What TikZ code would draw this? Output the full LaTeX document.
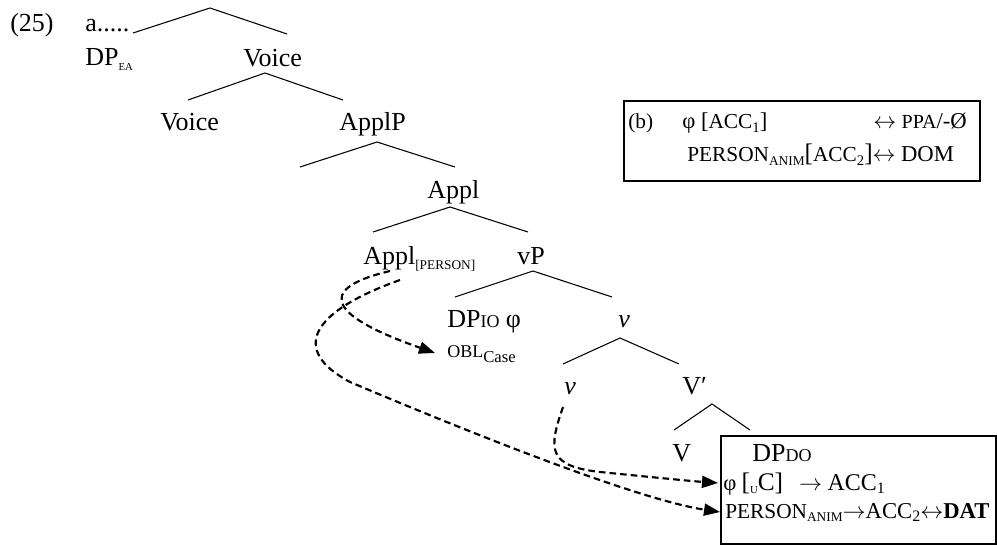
\documentclass[tikz,border=0pt]{standalone}
\usepackage{fontspec}
\setmainfont{Liberation Serif}
\usetikzlibrary{arrows.meta,calc}
\newcommand{\fs}[2]{{\fontsize{#1}{#1}\selectfont #2}}
\newcommand{\lo}[2][9]{\raisebox{-0.4ex}{\fontsize{#1}{#1}\selectfont #2}}
\newcommand{\lra}{\fs{19}{$\leftrightarrow$}}
\newcommand{\ra}{\fs{19}{$\rightarrow$}}
\tikzset{
  lbl/.style={inner sep=0pt, anchor=base west, font=\fontsize{19.5}{22}\selectfont},
  txt/.style={inner sep=0pt, anchor=base west, font=\fontsize{16}{18}\selectfont},
  edge/.style={line width=0.8pt},
  frame/.style={draw, line width=1.5pt, inner sep=0pt, anchor=north west},
  link/.style={dash pattern=on 5pt off 3pt, line width=1.6pt, -{Triangle[length=12pt,width=9pt]}},
}
\begin{document}
\begin{tikzpicture}[x=0.75pt, y=-0.75pt]
  \useasboundingbox (0,0) rectangle (997,545);
  % labels of the tree
  \node[lbl] (ex) at (10,32) {(25)};
  \node[lbl] (a) at (85,32) {a.....};
  \node[lbl] (dpea) at (85,66) {DP\lo[8]{EA}};
  \node[lbl] (voicebar) at (243,67) {Voice};
  \node[lbl] (voice) at (160,131) {Voice};
  \node[lbl] (applP) at (339,131) {ApplP};
  \node[lbl] (applbar) at (427,199) {Appl};
  \node[lbl] (applhead) at (363,265) {Appl\lo[10]{[PERSON]}};
  \node[lbl] (vP) at (517,265) {vP};
  \node[lbl] (dpio) at (447,328) {DP\fs{13.5}{IO} φ};
  \node[lbl] (obl) at (447,358) {\fs{13.5}{OBL}\lo[12.5]{Case}};
  \node[lbl] (vbar) at (618,328) {\textit{v}};
  \node[lbl] (vhead) at (564,395) {\textit{v}};
  \node[lbl] (Vbar) at (682,395) {V′};
  \node[lbl] (Vhead) at (672,462) {V};
  % branches
  \foreach \n/\x/\y in {r/210/8, rL/133/33, rR/287/34, vo/265/73, voL/188/100, voR/343/100,
      ap/377/142, apL/300/167, apR/455/167, al/450/207, alL/373/232, alR/528/232,
      vp/533/271, vpL/455/297, vpR/612/297, vb/620/338, vbL/563/364, vbR/679/364,
      Vb/712/404, VbL/674/430, VbR/750/430}
    \coordinate (\n) at (\x,\y);
  \draw[edge] (rL) -- (r) -- (rR);
  \draw[edge] (voL) -- (vo) -- (voR);
  \draw[edge] (apL) -- (ap) -- (apR);
  \draw[edge] (alL) -- (al) -- (alR);
  \draw[edge] (vpL) -- (vp) -- (vpR);
  \draw[edge] (vbL) -- (vb) -- (vbR);
  \draw[edge] (VbL) -- (Vb) -- (VbR);
  % box (b)
  \node[frame, minimum width=267pt, minimum height=60pt] (boxb) at (623,100) {};
  \node[txt] (bl) at (628,129) {(b)};
  \node[txt] (bphi) at (682,129) {\fs{17}{φ [}\fs{16}{ACC}\lo[11]{1}\fs{17}{]}};
  \node[txt] (bppa) at (873,129) {\lra\ \fs{15}{PPA}\fs{17}{/-Ø}};
  \node[txt] (bpers) at (687,162) {\fs{16}{PERSON}\lo[10]{ANIM}\fs{19}{[}ACC\lo[11]{2}\fs{19}{]}\lra\ \fs{17}{DOM}};
  % box of the object
  \node[frame, minimum width=206pt, minimum height=81pt] (boxdo) at (720,435) {};
  \node[lbl] (dpdo) at (752,462) {DP\fs{13.5}{DO}};
  \node[txt] (phi) at (723,490) {\fs{17}{φ} \fs{19}{[}\lo[8]{U}\fs{19}{C]}\ \ \ \ra\ \fs{18}{ACC}\lo[12]{1}};
  \node[txt] (pers) at (725,518) {PERSON\lo[10]{ANIM}\ra\fs{17}{ACC}\lo[12]{2}\lra\fs{17}{\textbf{DAT}}};
  % dashed links
  \draw[link] ([shift={(27,6)}]applhead.base west) .. controls (310,290) and (335,318) .. ([shift={(-12,-5)}]obl.base west);
  \draw[link] ([shift={(37,15)}]applhead.base west) .. controls (310,312) and (290,350) .. (350,382)
    .. controls (480,437) and (640,500) .. ([shift={(-5,-6)}]pers.base west);
  \draw[link] ([shift={(-1,12)}]vhead.base west) .. controls (548,450) and (548,466) .. (600,472)
    .. controls (650,477) and (690,481) .. ([shift={(-5,-7)}]phi.base west);
\end{tikzpicture}
\end{document}
